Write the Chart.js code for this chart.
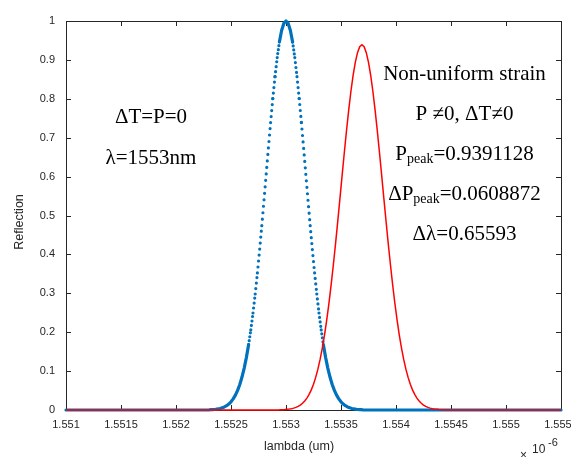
<!DOCTYPE html>
<html>
<head>
<meta charset="utf-8">
<script src="https://cdn.jsdelivr.net/npm/chart.js@4/dist/chart.umd.min.js"></script>
<style>
  body { margin: 0; background: #fff; }
  #wrap { width: 571px; height: 457px; }
</style>
</head>
<body>
<div id="wrap"><canvas id="fbgChart" width="571" height="457"></canvas></div>
<script>
// axis ticks (lambda is in units of 1e-6 m)
const xTicks = [1.551, 1.5515, 1.552, 1.5525, 1.553, 1.5535, 1.554, 1.5545, 1.555, 1.5555];
const yTicks = [0, 0.1, 0.2, 0.3, 0.4, 0.5, 0.6, 0.7, 0.8, 0.9, 1];

// unstrained grating (dotted blue)
const uniformLambda = [1.5510,
  1.55230, 1.55232, 1.55234, 1.55236, 1.55238, 1.55240, 1.55242, 1.55244, 1.55246, 1.55248,
  1.55250, 1.55252, 1.55254, 1.55256, 1.55258, 1.55260, 1.55262, 1.55264, 1.55266, 1.55268,
  1.55270, 1.55272, 1.55274, 1.55276, 1.55278, 1.55280, 1.55282, 1.55284, 1.55286, 1.55288,
  1.55290, 1.55292, 1.55294, 1.55296, 1.55298, 1.55300, 1.55302, 1.55304, 1.55306, 1.55308,
  1.55310, 1.55312, 1.55314, 1.55316, 1.55318, 1.55320, 1.55322, 1.55324, 1.55326, 1.55328,
  1.55330, 1.55332, 1.55334, 1.55336, 1.55338, 1.55340, 1.55342, 1.55344, 1.55346, 1.55348,
  1.55350, 1.55352, 1.55354, 1.55356, 1.55358, 1.55360, 1.55362, 1.55364, 1.55366, 1.55368,
  1.55370,
  1.5555];
const uniformRefl = [0,
  0.0005, 0.0008, 0.0012, 0.0018, 0.0027, 0.0039, 0.0056, 0.0079, 0.0111, 0.0154,
  0.0211, 0.0286, 0.0382, 0.0504, 0.0657, 0.0847, 0.1077, 0.1353, 0.1680, 0.2059,
  0.2494, 0.2982, 0.3523, 0.4111, 0.4738, 0.5394, 0.6065, 0.6737, 0.7390, 0.8007,
  0.8570, 0.9060, 0.9460, 0.9756, 0.9938, 1.0000, 0.9938, 0.9756, 0.9460, 0.9060,
  0.8570, 0.8007, 0.7390, 0.6737, 0.6065, 0.5394, 0.4738, 0.4111, 0.3523, 0.2982,
  0.2494, 0.2059, 0.1680, 0.1353, 0.1077, 0.0847, 0.0657, 0.0504, 0.0382, 0.0286,
  0.0211, 0.0154, 0.0111, 0.0079, 0.0056, 0.0039, 0.0027, 0.0018, 0.0012, 0.0008,
  0.0005,
  0];

// non-uniform strain (red)
const strainLambda = [1.5510,
  1.55289, 1.55291, 1.55293, 1.55295, 1.55297, 1.55299, 1.55301, 1.55303, 1.55305, 1.55307,
  1.55309, 1.55311, 1.55313, 1.55315, 1.55317, 1.55319, 1.55321, 1.55323, 1.55325, 1.55327,
  1.55329, 1.55331, 1.55333, 1.55335, 1.55337, 1.55339, 1.55341, 1.55343, 1.55345, 1.55347,
  1.55349, 1.55351, 1.55353, 1.55355, 1.55357, 1.55359, 1.55361, 1.55363, 1.55365, 1.55367,
  1.55369, 1.55371, 1.55373, 1.55375, 1.55377, 1.55379, 1.55381, 1.55383, 1.55385, 1.55387,
  1.55389, 1.55391, 1.55393, 1.55395, 1.55397, 1.55399, 1.55401, 1.55403, 1.55405, 1.55407,
  1.55409, 1.55411, 1.55413, 1.55415, 1.55417, 1.55419, 1.55421, 1.55423, 1.55425, 1.55427,
  1.55429, 1.55431, 1.55433, 1.55435, 1.55437, 1.55439, 1.55441, 1.55443, 1.55445, 1.55447,
  1.55449,
  1.5555];
const strainRefl = [0,
  0.0001, 0.0002, 0.0003, 0.0005, 0.0008, 0.0011, 0.0017, 0.0024, 0.0034, 0.0048,
  0.0068, 0.0094, 0.0128, 0.0173, 0.0231, 0.0306, 0.0400, 0.0517, 0.0662, 0.0838,
  0.1049, 0.1299, 0.1591, 0.1927, 0.2309, 0.2737, 0.3208, 0.3720, 0.4266, 0.4838,
  0.5429, 0.6024, 0.6612, 0.7179, 0.7709, 0.8188, 0.8602, 0.8938, 0.9186, 0.9340,
  0.9391, 0.9340, 0.9186, 0.8938, 0.8602, 0.8188, 0.7709, 0.7179, 0.6612, 0.6024,
  0.5429, 0.4838, 0.4266, 0.3720, 0.3208, 0.2737, 0.2309, 0.1927, 0.1591, 0.1299,
  0.1049, 0.0838, 0.0662, 0.0517, 0.0400, 0.0306, 0.0231, 0.0173, 0.0128, 0.0094,
  0.0068, 0.0048, 0.0034, 0.0024, 0.0017, 0.0011, 0.0008, 0.0005, 0.0003, 0.0002,
  0.0001,
  0];

// text labels on the plot: [main, subscript, rest]
const leftNotes = [['ΔT=P=0', '', ''], ['λ=1553nm', '', '']];
const rightNotes = [
  ['Non-uniform strain', '', ''],
  ['P ≠0, ΔT≠0', '', ''],
  ['P', 'peak', '=0.9391128'],
  ['ΔP', 'peak', '=0.0608872'],
  ['Δλ=0.65593', '', '']
];

const axisColor = '#262626';
const sansFont = '"Liberation Sans", Arial, sans-serif';
const serifFont = '"Liberation Serif", "Times New Roman", serif';

function toPoints(xs, ys) {
  return xs.map((x, i) => ({ x: x, y: ys[i] }));
}

function drawNote(ctx, note, cx, baseY) {
  ctx.font = '21px ' + serifFont;
  const w1 = ctx.measureText(note[0]).width;
  const w3 = ctx.measureText(note[2]).width;
  ctx.font = '14px ' + serifFont;
  const w2 = note[1] ? ctx.measureText(note[1]).width : 0;
  let x = cx - (w1 + w2 + w3) / 2;
  ctx.font = '21px ' + serifFont;
  ctx.fillText(note[0], x, baseY);
  x += w1;
  if (note[1]) {
    ctx.font = '14px ' + serifFont;
    ctx.fillText(note[1], x, baseY + 3);
    x += w2;
    ctx.font = '21px ' + serifFont;
  }
  ctx.fillText(note[2], x, baseY);
}

// box, inward ticks (MATLAB style)
const boxPlugin = {
  id: 'matlabBox',
  beforeDatasetsDraw(chart) {
    const ctx = chart.ctx;
    const a = chart.chartArea;
    const xs = chart.scales.x;
    const ys = chart.scales.y;
    ctx.save();
    ctx.strokeStyle = axisColor;
    ctx.lineWidth = 1;
    ctx.strokeRect(Math.round(a.left) + 0.5, Math.round(a.top) + 0.5,
      Math.round(a.right - a.left), Math.round(a.bottom - a.top));
    ctx.beginPath();
    xTicks.forEach(v => {
      const px = Math.round(xs.getPixelForValue(v)) + 0.5;
      ctx.moveTo(px, a.bottom); ctx.lineTo(px, a.bottom - 5);
      ctx.moveTo(px, a.top); ctx.lineTo(px, a.top + 5);
    });
    yTicks.forEach(v => {
      const py = Math.round(ys.getPixelForValue(v)) + 0.5;
      ctx.moveTo(a.left, py); ctx.lineTo(a.left + 5, py);
      ctx.moveTo(a.right, py); ctx.lineTo(a.right - 5, py);
    });
    ctx.stroke();
    ctx.restore();
  },
  afterDraw(chart) {
    const ctx = chart.ctx;
    ctx.save();
    ctx.fillStyle = axisColor;
    // axis titles
    ctx.font = '12.5px ' + sansFont;
    ctx.textAlign = 'center';
    ctx.textBaseline = 'middle';
    ctx.fillText('lambda (um)', 299, 447);
    ctx.save();
    ctx.translate(20, 222);
    ctx.rotate(-Math.PI / 2);
    ctx.fillText('Reflection', 0, 0);
    ctx.restore();
    // exponent
    ctx.textAlign = 'left';
    ctx.textBaseline = 'alphabetic';
    ctx.font = '12px ' + sansFont;
    ctx.fillText('×', 520, 459);
    ctx.fillText('10', 532, 453);
    ctx.font = '11px ' + sansFont;
    ctx.fillText('-6', 548, 446);
    // notes
    ctx.fillStyle = '#000';
    leftNotes.forEach((n, i) => drawNote(ctx, n, 151, 123 + i * 40.5));
    rightNotes.forEach((n, i) => drawNote(ctx, n, 464.5, 79.5 + i * 40.2));
    ctx.restore();
  }
};

const ctx = document.getElementById('fbgChart').getContext('2d');
new Chart(ctx, {
  type: 'line',
  data: {
    datasets: [{
      label: 'Non-uniform strain',
      data: toPoints(strainLambda, strainRefl),
      borderColor: '#FF0000',
      borderWidth: 1.5,
      pointRadius: 0,
      tension: 0,
      fill: false,
      clip: false,
      order: 0
    }, {
      label: 'Uniform',
      data: toPoints(uniformLambda, uniformRefl),
      borderColor: '#0072BD',
      borderWidth: 3.2,
      borderCapStyle: 'round',
      borderJoinStyle: 'round',
      pointRadius: 0,
      tension: 0,
      fill: false,
      clip: false,
      order: 1,
      segment: {
        // dot spacing grows with slope; flat parts merge into a solid band
        borderDash: c => {
          const dx = Math.abs(c.p1.x - c.p0.x) || 1;
          const s = Math.abs(c.p1.y - c.p0.y) / dx;
          const gap = 0.56 * Math.sqrt(1 + s * s);
          return gap < 3.4 ? undefined : [0, Math.round(gap * 2) / 2];
        }
      }
    }]
  },
  options: {
    responsive: false,
    animation: false,
    layout: { padding: { top: 21, right: 10, left: 0, bottom: 0 } },
    plugins: {
      legend: { display: false },
      tooltip: { enabled: false }
    },
    scales: {
      x: {
        type: 'linear',
        min: 1.551,
        max: 1.5555,
        grid: { display: false, drawTicks: false },
        border: { display: false },
        afterBuildTicks: s => { s.ticks = xTicks.map(v => ({ value: v })); },
        afterFit: s => { s.height = 47; s.paddingLeft = 0; s.paddingRight = 0; },
        ticks: {
          color: axisColor,
          font: { family: sansFont, size: 11 },
          padding: 8,
          maxRotation: 0,
          autoSkip: false,
          callback: v => String(+v.toFixed(4))
        }
      },
      y: {
        min: 0,
        max: 1,
        grid: { display: false, drawTicks: false },
        border: { display: false },
        afterBuildTicks: s => { s.ticks = yTicks.map(v => ({ value: v })); },
        afterFit: s => { s.width = 66; s.paddingTop = 0; s.paddingBottom = 0; },
        ticks: {
          color: axisColor,
          font: { family: sansFont, size: 11 },
          padding: 11,
          callback: v => String(+v.toFixed(1))
        }
      }
    }
  },
  plugins: [boxPlugin]
});
</script>
</body>
</html>
